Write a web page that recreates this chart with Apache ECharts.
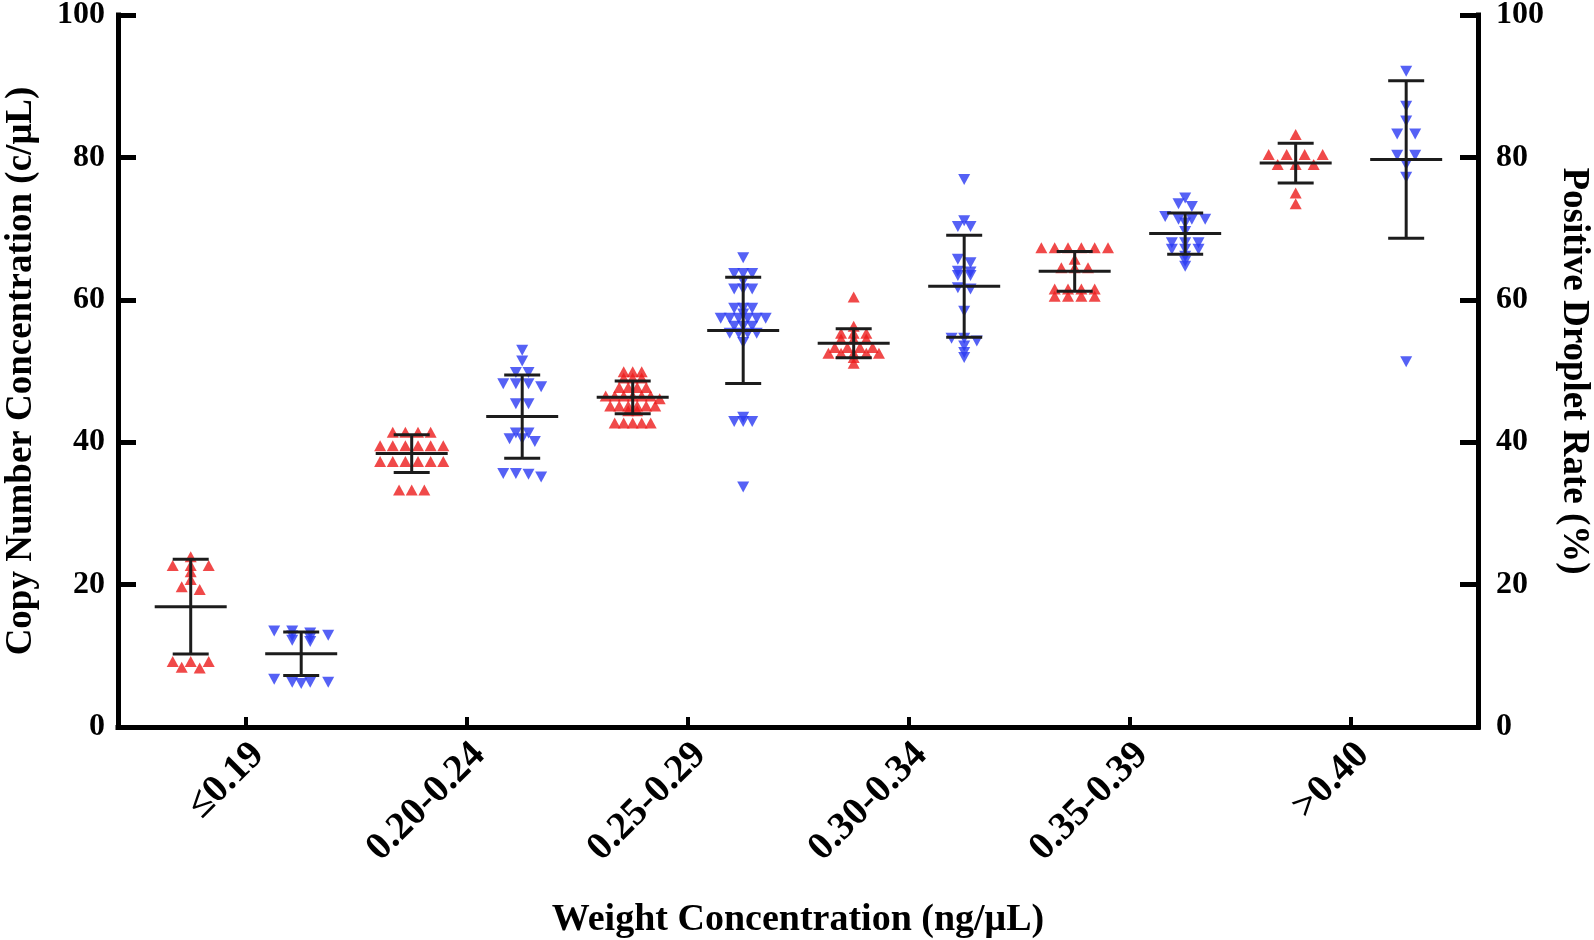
<!DOCTYPE html>
<html><head><meta charset="utf-8">
<script src="https://cdn.jsdelivr.net/npm/echarts@6/dist/echarts.min.js"></script>
<style>html,body{margin:0;padding:0;background:#fff}#c{width:1594px;height:940px}</style>
</head><body><div id="c"></div>
<script>
// ---- categories / tick labels ----
const categories = ['≤0.19', '0.20-0.24', '0.25-0.29', '0.30-0.34', '0.35-0.39', '>0.40'];
const yTicks = [0, 20, 40, 60, 80, 100];

// ---- Copy number concentration (c/μL), left axis, red ▲ ----
const copyLE019 = [23.9, 22.7, 22.7, 22.7, 21.8, 20.7, 19.7, 19.3, 9.2, 9.2, 9.2, 8.4, 8.3];
const copy020 = [41.4, 41.4, 41.4, 41.4, 39.5, 39.5, 39.5, 39.5, 39.5, 39.5, 37.3, 37.3, 37.3, 37.3, 37.3, 37.3, 33.3, 33.3, 33.3];
const copy025 = [49.9, 49.9, 49.9, 49.0, 49.0, 49.0, 47.7, 47.7, 47.7, 47.7, 46.5, 46.5, 46.5, 46.5, 46.5, 46.5, 46.1, 45.1, 45.1, 45.1, 45.1, 45.1, 45.1, 44.4, 44.4, 42.7, 42.7, 42.7, 42.7, 42.7];
const copy030 = [60.4, 56.3, 55.3, 55.3, 55.3, 54.5, 54.5, 54.5, 53.3, 53.3, 53.3, 53.3, 52.5, 52.5, 52.5, 52.5, 52.5, 51.9, 51.1];
const copy035 = [67.3, 67.3, 67.3, 67.3, 67.3, 67.3, 65.7, 64.5, 64.5, 64.5, 61.5, 61.5, 61.5, 61.5, 60.5, 60.5, 60.5, 60.5];
const copy040 = [83.2, 80.4, 80.4, 80.4, 80.4, 79.0, 79.0, 79.0, 75.0, 73.5];
const copyMean = [16.9, 38.4, 46.3, 53.9, 64.0, 79.2];
const copySD = [6.65, 2.65, 2.3, 2.05, 2.8, 2.8];

// ---- Positive droplet rate (%), right axis, blue ▼ ----
const rateLE019 = [13.5, 13.5, 13.2, 12.9, 12.8, 12.5, 12.2, 12.0, 6.7, 6.3, 6.3, 6.3, 6.1];
const rate020 = [52.9, 51.4, 49.8, 49.8, 48.2, 48.2, 48.2, 47.8, 45.4, 45.4, 41.3, 41.3, 40.5, 40.5, 40.1, 35.6, 35.6, 35.5, 35.1];
const rate025 = [65.9, 63.7, 63.7, 63.7, 62.6, 61.5, 61.5, 61.5, 58.8, 58.8, 58.8, 58.0, 57.4, 57.4, 57.4, 57.4, 57.4, 57.4, 56.3, 56.3, 56.3, 55.3, 55.3, 55.3, 55.3, 54.0, 43.5, 42.9, 42.9, 42.9, 33.7];
const rate030 = [76.9, 71.1, 70.3, 70.3, 65.7, 65.2, 64.0, 63.9, 63.4, 63.4, 61.7, 61.5, 58.4, 54.6, 54.6, 54.2, 53.5, 52.6, 51.9];
const rate035 = [74.3, 73.5, 73.1, 71.7, 71.3, 71.3, 71.3, 70.8, 69.6, 68.0, 68.0, 68.0, 67.1, 67.1, 67.1, 66.1, 65.4, 64.7];
const rate040 = [92.1, 87.2, 85.1, 83.3, 83.3, 80.3, 80.3, 79.0, 77.2, 51.3];
const rateMean = [10.3, 43.6, 55.7, 61.9, 69.3, 79.7];
const rateSD = [3.05, 5.85, 7.45, 7.15, 2.9, 11.05];

const copyGroups = [copyLE019, copy020, copy025, copy030, copy035, copy040];
const rateGroups = [rateLE019, rate020, rate025, rate030, rate035, rate040];

const FONT = "'Liberation Serif', 'Times New Roman', serif";
const RED = '#ec1c1c';
const BLUE = '#2a3af2';
const LINE = '#1c1c1c';

// column-scatter layout: points of similar value share a row and are spread sideways (pixel offsets)
function swarm(values, xPos) {
  const N = values.length;
  const spacing = Math.min(18, Math.max(9, 240 / N));
  const sorted = values.slice().sort((a, b) => b - a);
  const rows = [];
  for (const v of sorted) {
    const r = rows[rows.length - 1];
    if (r && r[0] - v < 0.6) r.push(v); else rows.push([v]);
  }
  const out = [];
  rows.forEach(r => r.forEach((v, k) => {
    out.push({ value: [xPos, v], symbolOffset: [(k - (r.length - 1) / 2) * spacing, 0] });
  }));
  return out;
}

const redPts = [], bluePts = [];
copyGroups.forEach((g, i) => redPts.push(...swarm(g, i - 0.25)));
rateGroups.forEach((g, i) => bluePts.push(...swarm(g, i + 0.25)));

const redBars = copyMean.map((m, i) => [i - 0.25, m, copySD[i]]);
const blueBars = rateMean.map((m, i) => [i + 0.25, m, rateSD[i]]);

function errRender(params, api) {
  const x = api.value(0), m = api.value(1), s = api.value(2);
  const c = api.coord([x, m]);
  const t = api.coord([x, m + s]);
  const b = api.coord([x, m - s]);
  const st = { stroke: LINE, lineWidth: 3 };
  return {
    type: 'group',
    children: [
      { type: 'line', shape: { x1: c[0], y1: t[1], x2: c[0], y2: b[1] }, style: st },
      { type: 'line', shape: { x1: c[0] - 18, y1: t[1], x2: c[0] + 18, y2: t[1] }, style: st },
      { type: 'line', shape: { x1: c[0] - 18, y1: b[1], x2: c[0] + 18, y2: b[1] }, style: st },
      { type: 'line', shape: { x1: c[0] - 36, y1: c[1], x2: c[0] + 36, y2: c[1] }, style: st }
    ]
  };
}

const axisLineStyle = { color: '#000', width: 5, cap: 'square' };
const tickLabelStyle = { fontFamily: FONT, fontWeight: 'bold', fontSize: 32, color: '#000' };
const nameStyle = { fontFamily: FONT, fontWeight: 'bold', fontSize: 37, color: '#000' };
const tickIdx = categories.map((c, i) => i);
const labelPos = categories.map((c, i) => i + 0.055); // rotated labels sit slightly right of their tick

const chart = echarts.init(document.getElementById('c'), null, { renderer: 'canvas' });
chart.setOption({
  backgroundColor: '#fff',
  animation: false,
  grid: { left: 118, right: 116, top: 15, bottom: 213, containLabel: false, outerBoundsMode: 'none' },
  xAxis: {
    type: 'value', min: -0.579, max: 5.575,
    axisLine: { show: true, onZero: false, lineStyle: axisLineStyle },
    axisTick: { show: true, inside: true, length: 10, customValues: tickIdx, lineStyle: { color: '#000', width: 4 } },
    axisLabel: { customValues: labelPos, rotate: 45, margin: 22, fontSize: 39,
      formatter: v => categories[Math.round(v)], fontFamily: FONT, fontWeight: 'bold', color: '#000' },
    splitLine: { show: false },
    name: 'Weight Concentration (ng/μL)', nameLocation: 'middle', nameGap: 174,
    nameTextStyle: Object.assign({}, nameStyle, { fontSize: 38 })
  },
  yAxis: [
    {
      type: 'value', min: 0, max: 100, interval: 20, position: 'left',
      axisLine: { show: true, onZero: false, lineStyle: axisLineStyle },
      axisTick: { show: true, inside: true, length: 18, lineStyle: { color: '#000', width: 5 } },
      axisLabel: Object.assign({ margin: 13, customValues: yTicks }, tickLabelStyle),
      splitLine: { show: false },
      name: 'Copy Number Concentration (c/μL)', nameLocation: 'middle', nameRotate: 90, nameGap: 78,
      nameTextStyle: nameStyle
    },
    {
      type: 'value', min: 0, max: 100, interval: 20, position: 'right',
      axisLine: { show: true, onZero: false, lineStyle: axisLineStyle },
      axisTick: { show: true, inside: true, length: 18, lineStyle: { color: '#000', width: 5 } },
      axisLabel: Object.assign({ margin: 18, customValues: yTicks }, tickLabelStyle),
      splitLine: { show: false },
      name: 'Positive Droplet Rate (%)', nameLocation: 'middle', nameRotate: -90, nameGap: 72,
      nameTextStyle: nameStyle
    }
  ],
  series: [
    { type: 'scatter', name: 'Copy Number Concentration', yAxisIndex: 0, symbol: 'triangle', symbolSize: [12, 11],
      itemStyle: { color: RED }, data: redPts, z: 2 },
    { type: 'scatter', name: 'Positive Droplet Rate', yAxisIndex: 1, symbol: 'triangle', symbolSize: [12, 11], symbolRotate: 180,
      itemStyle: { color: BLUE }, data: bluePts, z: 2 },
    { type: 'custom', yAxisIndex: 0, renderItem: errRender, data: redBars, z: 5 },
    { type: 'custom', yAxisIndex: 1, renderItem: errRender, data: blueBars, z: 5 }
  ]
});
</script></body></html>
